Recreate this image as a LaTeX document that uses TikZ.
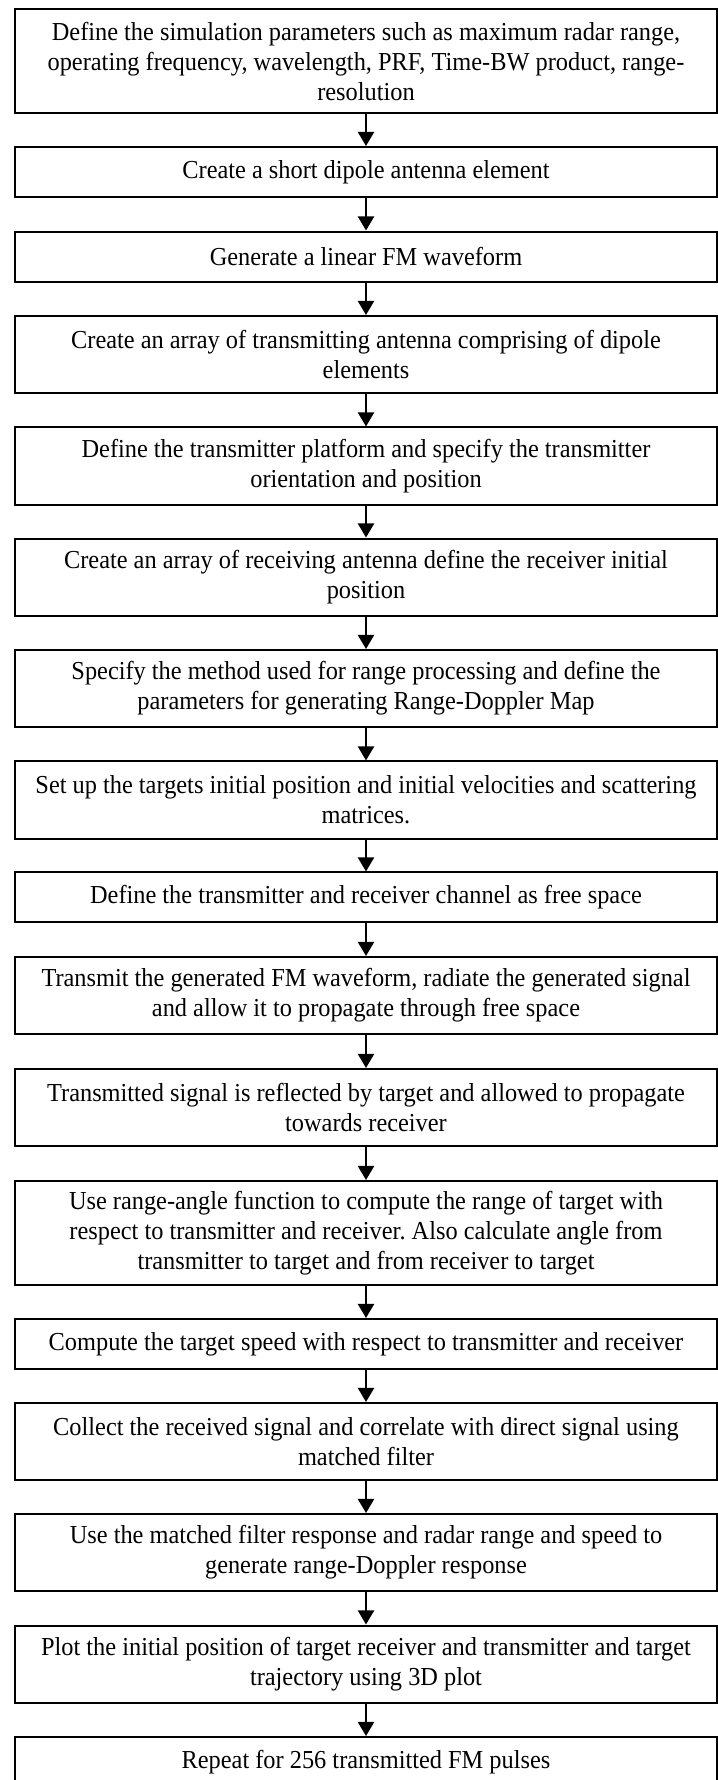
\documentclass[tikz,border=0pt]{standalone}
\usepackage{fontspec}
\setmainfont{Liberation Serif}[FakeStretch=0.94]
\usepackage{xcolor}
\usetikzlibrary{arrows.meta}
\definecolor{ink}{HTML}{000000}
\definecolor{paper}{HTML}{FFFFFF}
\tikzset{
  stepbox/.style={draw=ink, fill=paper, line width=1pt, minimum width=12.285cm,
    align=center, inner sep=0pt, font=\fontsize{12.9}{15}\selectfont\frenchspacing},
  one/.style={stepbox, minimum height=0.875cm},
  two/.style={stepbox, minimum height=1.348cm},
  three/.style={stepbox, minimum height=1.82cm},
  flow/.style={draw=ink, line width=1pt, -{Triangle[length=7pt,width=8pt]}},
}

\begin{document}
\begin{tikzpicture}
  % page
  \useasboundingbox[fill=paper] (0,0) rectangle (12.565,-31.15);
  \def\xc{6.405}

  % steps
  \node[three] (par) at (\xc,-1.076) {Define the simulation parameters such as maximum radar range,\\operating frequency, wavelength, PRF, Time-BW product, range-\\resolution};
  \node[one] (dip) at (\xc,-3.010) {Create a short dipole antenna element};
  \node[one] (wav) at (\xc,-4.489) {Generate a linear FM waveform};
  \node[two] (txa) at (\xc,-6.204) {Create an array of transmitting antenna comprising of dipole\\elements};
  \node[two] (txp) at (\xc,-8.155) {Define the transmitter platform and specify the transmitter\\orientation and position};
  \node[two] (rxa) at (\xc,-10.098) {Create an array of receiving antenna define the receiver initial\\position};
  \node[two] (rdm) at (\xc,-12.049) {Specify the method used for range processing and define the\\parameters for generating Range-Doppler Map};
  \node[two] (tgt) at (\xc,-14.000) {Set up the targets initial position and initial velocities and scattering\\matrices.};
  \node[one] (chn) at (\xc,-15.706) {Define the transmitter and receiver channel as free space};
  \node[two] (tx) at (\xc,-17.421) {Transmit the generated FM waveform, radiate the generated signal\\and allow it to propagate through free space};
  \node[two] (rfl) at (\xc,-19.381) {Transmitted signal is reflected by target and allowed to propagate\\towards receiver};
  \node[three] (ang) at (\xc,-21.578) {Use range-angle function to compute the range of target with\\respect to transmitter and receiver. Also calculate angle from\\transmitter to target and from receiver to target};
  \node[one] (spd) at (\xc,-23.520) {Compute the target speed with respect to transmitter and receiver};
  \node[two] (col) at (\xc,-25.226) {Collect the received signal and correlate with direct signal using\\matched filter};
  \node[two] (mf) at (\xc,-27.169) {Use the matched filter response and radar range and speed to\\generate range-Doppler response};
  \node[two] (plt) at (\xc,-29.120) {Plot the initial position of target receiver and transmitter and target\\trajectory using 3D plot};
  \node[one] (rep) at (\xc,-30.835) {Repeat for 256 transmitted FM pulses};

  % arrows
  \foreach \a/\b in {par/dip,dip/wav,wav/txa,txa/txp,txp/rxa,rxa/rdm,rdm/tgt,tgt/chn,
    chn/tx,tx/rfl,rfl/ang,ang/spd,spd/col,col/mf,mf/plt,plt/rep}
    \draw[flow] (\a) -- (\b);
\end{tikzpicture}
\end{document}
